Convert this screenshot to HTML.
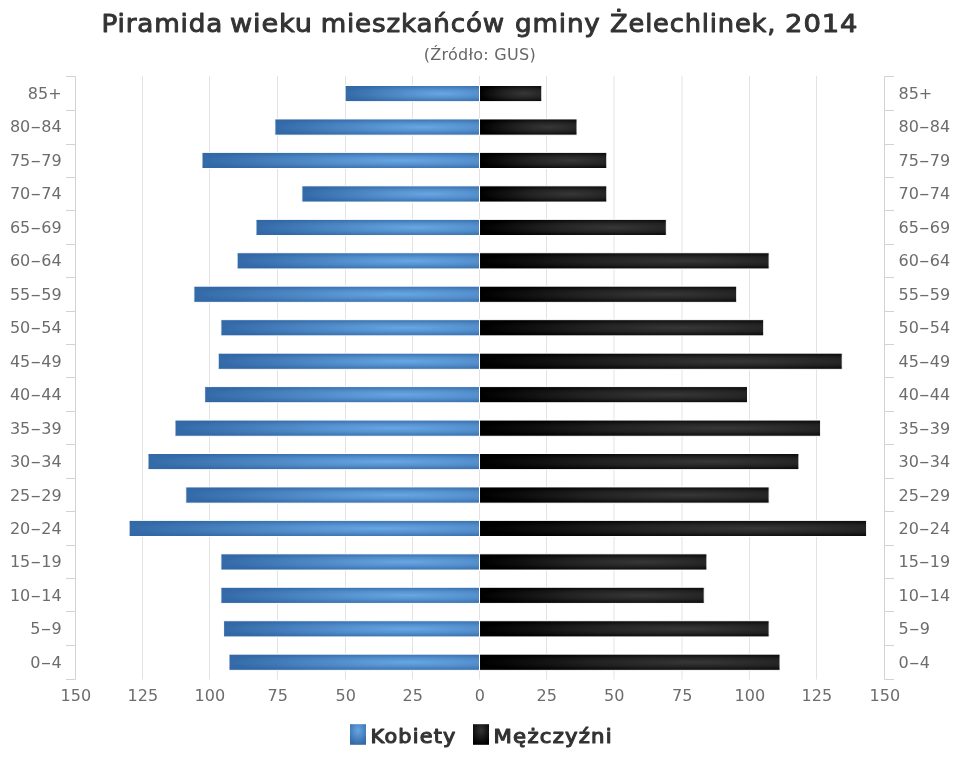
<!DOCTYPE html>
<html lang="pl"><head><meta charset="utf-8">
<title>Piramida wieku mieszkańców gminy Żelechlinek, 2014</title>
<style>
html,body{margin:0;padding:0;background:#fff;}
body{width:960px;height:768px;overflow:hidden;}
svg{display:block;font-family:"DejaVu Sans", "Liberation Sans", sans-serif;}
.t{font-size:25.2px;fill:#333;stroke:#333;stroke-width:0.95;stroke-linejoin:round;letter-spacing:0.8px;}
.s{font-size:16px;fill:#666;letter-spacing:0.27px;}
.l{font-size:16px;fill:#6c6c6c;letter-spacing:0px;}
.g{font-size:19.3px;fill:#333;stroke:#333;stroke-width:1.1;stroke-linejoin:round;letter-spacing:1.1px;}
.b{fill:url(#gb);stroke:#fff;stroke-width:1;}
.k{fill:url(#gk);stroke:#fff;stroke-width:1;}
</style></head><body>
<svg width="960" height="768" viewBox="0 0 960 768">
<defs>
<radialGradient id="gb" cx="0.72" cy="0.5" r="0.72" fx="0.72" fy="0.5" gradientTransform="translate(0.72 0.5) scale(1 1.0) translate(-0.72 -0.5)"><stop offset="0" stop-color="#67a7e3"/><stop offset="1" stop-color="#346aa8"/></radialGradient>
<radialGradient id="gk" cx="0.72" cy="0.5" r="0.72" fx="0.72" fy="0.5" gradientTransform="translate(0.72 0.5) scale(1 1.0) translate(-0.72 -0.5)">
<stop offset="0" stop-color="#373737"/>
<stop offset="0.5" stop-color="#202020"/>
<stop offset="1" stop-color="#000000"/>
</radialGradient>
<linearGradient id="eb" x1="0" y1="0" x2="0" y2="1">
<stop offset="0" stop-color="#2c62a0" stop-opacity="0.3"/>
<stop offset="0.12" stop-color="#2c62a0" stop-opacity="0.15"/>
<stop offset="0.25" stop-color="#2c62a0" stop-opacity="0"/>
<stop offset="0.75" stop-color="#2c62a0" stop-opacity="0"/>
<stop offset="0.88" stop-color="#2c62a0" stop-opacity="0.15"/>
<stop offset="1" stop-color="#2c62a0" stop-opacity="0.3"/>
</linearGradient>
<linearGradient id="ek" x1="0" y1="0" x2="0" y2="1">
<stop offset="0" stop-color="#000000" stop-opacity="0.3"/>
<stop offset="0.12" stop-color="#000000" stop-opacity="0.15"/>
<stop offset="0.25" stop-color="#000000" stop-opacity="0"/>
<stop offset="0.75" stop-color="#000000" stop-opacity="0"/>
<stop offset="0.88" stop-color="#000000" stop-opacity="0.15"/>
<stop offset="1" stop-color="#000000" stop-opacity="0.3"/>
</linearGradient>
<radialGradient id="lb" cx="0.5" cy="0.3" r="0.7"><stop offset="0" stop-color="#67a7e3"/><stop offset="1" stop-color="#346aa8"/></radialGradient>
<radialGradient id="lk" cx="0.5" cy="0.3" r="0.7"><stop offset="0" stop-color="#333333"/><stop offset="1" stop-color="#000000"/></radialGradient>
</defs>
<rect x="0" y="0" width="960" height="768" fill="#fff"/>
<g stroke="#e3e3e6" stroke-width="1" fill="none">
<path d="M142.5 76.0V679.5"/>
<path d="M209.5 76.0V679.5"/>
<path d="M277.5 76.0V679.5"/>
<path d="M345.5 76.0V679.5"/>
<path d="M412.5 76.0V679.5"/>
<path d="M479.5 76.0V679.5"/>
<path d="M546.5 76.0V679.5"/>
<path d="M614 76.0V679.5"/>
<path d="M682 76.0V679.5"/>
<path d="M749.5 76.0V679.5"/>
<path d="M816.5 76.0V679.5"/>
</g>
<g stroke="#d0d3d8" stroke-width="1" fill="none">
<path d="M75.5 76.0V679.5"/>
<path d="M884.5 76.0V679.5"/>
<path d="M66.0 76.5H75.5"/>
<path d="M884.5 76.5H894.0"/>
<path d="M66.0 110.5H75.5"/>
<path d="M884.5 110.5H894.0"/>
<path d="M66.0 144.5H75.5"/>
<path d="M884.5 144.5H894.0"/>
<path d="M66.0 177.5H75.5"/>
<path d="M884.5 177.5H894.0"/>
<path d="M66.0 210.5H75.5"/>
<path d="M884.5 210.5H894.0"/>
<path d="M66.0 244.5H75.5"/>
<path d="M884.5 244.5H894.0"/>
<path d="M66.0 277.5H75.5"/>
<path d="M884.5 277.5H894.0"/>
<path d="M66.0 311.5H75.5"/>
<path d="M884.5 311.5H894.0"/>
<path d="M66.0 344.5H75.5"/>
<path d="M884.5 344.5H894.0"/>
<path d="M66.0 377.5H75.5"/>
<path d="M884.5 377.5H894.0"/>
<path d="M66.0 411.5H75.5"/>
<path d="M884.5 411.5H894.0"/>
<path d="M66.0 444.5H75.5"/>
<path d="M884.5 444.5H894.0"/>
<path d="M66.0 478.5H75.5"/>
<path d="M884.5 478.5H894.0"/>
<path d="M66.0 511.5H75.5"/>
<path d="M884.5 511.5H894.0"/>
<path d="M66.0 545.5H75.5"/>
<path d="M884.5 545.5H894.0"/>
<path d="M66.0 578.5H75.5"/>
<path d="M884.5 578.5H894.0"/>
<path d="M66.0 611.5H75.5"/>
<path d="M884.5 611.5H894.0"/>
<path d="M66.0 645.5H75.5"/>
<path d="M884.5 645.5H894.0"/>
<path d="M66.0 679.5H75.5"/>
<path d="M884.5 679.5H894.0"/>
</g>
<g>
<rect class="b" x="345.1" y="85.5" width="134.4" height="16.1"/>
<rect fill="url(#eb)" x="345.6" y="86.0" width="133.4" height="15.100000000000001"/>
<rect class="k" x="479.5" y="85.5" width="62.3" height="16.1"/>
<rect fill="url(#ek)" x="480" y="86.0" width="61.3" height="15.100000000000001"/>
<rect class="b" x="274.9" y="119.0" width="204.6" height="16.1"/>
<rect fill="url(#eb)" x="275.4" y="119.5" width="203.6" height="15.100000000000001"/>
<rect class="k" x="479.5" y="119.0" width="97.5" height="16.1"/>
<rect fill="url(#ek)" x="480" y="119.5" width="96.5" height="15.100000000000001"/>
<rect class="b" x="202.0" y="152.4" width="277.5" height="16.1"/>
<rect fill="url(#eb)" x="202.5" y="152.9" width="276.5" height="15.100000000000001"/>
<rect class="k" x="479.5" y="152.4" width="127.3" height="16.1"/>
<rect fill="url(#ek)" x="480" y="152.9" width="126.3" height="15.100000000000001"/>
<rect class="b" x="301.9" y="185.9" width="177.6" height="16.1"/>
<rect fill="url(#eb)" x="302.4" y="186.4" width="176.6" height="15.100000000000001"/>
<rect class="k" x="479.5" y="185.9" width="127.3" height="16.1"/>
<rect fill="url(#ek)" x="480" y="186.4" width="126.3" height="15.100000000000001"/>
<rect class="b" x="256.0" y="219.4" width="223.5" height="16.1"/>
<rect fill="url(#eb)" x="256.5" y="219.9" width="222.5" height="15.100000000000001"/>
<rect class="k" x="479.5" y="219.4" width="186.8" height="16.1"/>
<rect fill="url(#ek)" x="480" y="219.9" width="185.8" height="15.100000000000001"/>
<rect class="b" x="237.1" y="252.8" width="242.4" height="16.1"/>
<rect fill="url(#eb)" x="237.6" y="253.3" width="241.4" height="15.100000000000001"/>
<rect class="k" x="479.5" y="252.8" width="289.6" height="16.1"/>
<rect fill="url(#ek)" x="480" y="253.3" width="288.6" height="15.100000000000001"/>
<rect class="b" x="193.9" y="286.2" width="285.6" height="16.1"/>
<rect fill="url(#eb)" x="194.4" y="286.8" width="284.6" height="15.100000000000001"/>
<rect class="k" x="479.5" y="286.2" width="257.2" height="16.1"/>
<rect fill="url(#ek)" x="480" y="286.8" width="256.2" height="15.100000000000001"/>
<rect class="b" x="220.9" y="319.7" width="258.6" height="16.1"/>
<rect fill="url(#eb)" x="221.4" y="320.2" width="257.6" height="15.100000000000001"/>
<rect class="k" x="479.5" y="319.7" width="284.2" height="16.1"/>
<rect fill="url(#ek)" x="480" y="320.2" width="283.2" height="15.100000000000001"/>
<rect class="b" x="218.2" y="353.2" width="261.3" height="16.1"/>
<rect fill="url(#eb)" x="218.7" y="353.7" width="260.3" height="15.100000000000001"/>
<rect class="k" x="479.5" y="353.2" width="362.7" height="16.1"/>
<rect fill="url(#ek)" x="480" y="353.7" width="361.7" height="15.100000000000001"/>
<rect class="b" x="204.7" y="386.6" width="274.8" height="16.1"/>
<rect fill="url(#eb)" x="205.2" y="387.1" width="273.8" height="15.100000000000001"/>
<rect class="k" x="479.5" y="386.6" width="268.0" height="16.1"/>
<rect fill="url(#ek)" x="480" y="387.1" width="267.0" height="15.100000000000001"/>
<rect class="b" x="175.0" y="420.1" width="304.5" height="16.1"/>
<rect fill="url(#eb)" x="175.5" y="420.6" width="303.5" height="15.100000000000001"/>
<rect class="k" x="479.5" y="420.1" width="341.1" height="16.1"/>
<rect fill="url(#ek)" x="480" y="420.6" width="340.1" height="15.100000000000001"/>
<rect class="b" x="148.0" y="453.5" width="331.5" height="16.1"/>
<rect fill="url(#eb)" x="148.5" y="454.0" width="330.5" height="15.100000000000001"/>
<rect class="k" x="479.5" y="453.5" width="319.4" height="16.1"/>
<rect fill="url(#ek)" x="480" y="454.0" width="318.4" height="15.100000000000001"/>
<rect class="b" x="185.8" y="487.0" width="293.7" height="16.1"/>
<rect fill="url(#eb)" x="186.3" y="487.5" width="292.7" height="15.100000000000001"/>
<rect class="k" x="479.5" y="487.0" width="289.6" height="16.1"/>
<rect fill="url(#ek)" x="480" y="487.5" width="288.6" height="15.100000000000001"/>
<rect class="b" x="129.1" y="520.4" width="350.4" height="16.1"/>
<rect fill="url(#eb)" x="129.6" y="520.9" width="349.4" height="15.100000000000001"/>
<rect class="k" x="479.5" y="520.4" width="387.1" height="16.1"/>
<rect fill="url(#ek)" x="480" y="520.9" width="386.1" height="15.100000000000001"/>
<rect class="b" x="220.9" y="553.9" width="258.6" height="16.1"/>
<rect fill="url(#eb)" x="221.4" y="554.4" width="257.6" height="15.100000000000001"/>
<rect class="k" x="479.5" y="553.9" width="227.4" height="16.1"/>
<rect fill="url(#ek)" x="480" y="554.4" width="226.4" height="15.100000000000001"/>
<rect class="b" x="220.9" y="587.3" width="258.6" height="16.1"/>
<rect fill="url(#eb)" x="221.4" y="587.8" width="257.6" height="15.100000000000001"/>
<rect class="k" x="479.5" y="587.3" width="224.7" height="16.1"/>
<rect fill="url(#ek)" x="480" y="587.8" width="223.7" height="15.100000000000001"/>
<rect class="b" x="223.6" y="620.8" width="255.9" height="16.1"/>
<rect fill="url(#eb)" x="224.1" y="621.2" width="254.9" height="15.100000000000001"/>
<rect class="k" x="479.5" y="620.8" width="289.6" height="16.1"/>
<rect fill="url(#ek)" x="480" y="621.2" width="288.6" height="15.100000000000001"/>
<rect class="b" x="229.0" y="654.2" width="250.5" height="16.1"/>
<rect fill="url(#eb)" x="229.5" y="654.7" width="249.5" height="15.100000000000001"/>
<rect class="k" x="479.5" y="654.2" width="300.5" height="16.1"/>
<rect fill="url(#ek)" x="480" y="654.7" width="299.5" height="15.100000000000001"/>
</g>
<g class="l">
<text x="61.6" y="98.7" text-anchor="end">85+</text>
<text x="898.5" y="98.7">85+</text>
<text x="61.6" y="132.2" text-anchor="end">80<tspan textLength="11" lengthAdjust="spacingAndGlyphs">-</tspan>84</text>
<text x="898.5" y="132.2">80<tspan textLength="11" lengthAdjust="spacingAndGlyphs">-</tspan>84</text>
<text x="61.6" y="165.7" text-anchor="end">75<tspan textLength="11" lengthAdjust="spacingAndGlyphs">-</tspan>79</text>
<text x="898.5" y="165.7">75<tspan textLength="11" lengthAdjust="spacingAndGlyphs">-</tspan>79</text>
<text x="61.6" y="199.1" text-anchor="end">70<tspan textLength="11" lengthAdjust="spacingAndGlyphs">-</tspan>74</text>
<text x="898.5" y="199.1">70<tspan textLength="11" lengthAdjust="spacingAndGlyphs">-</tspan>74</text>
<text x="61.6" y="232.6" text-anchor="end">65<tspan textLength="11" lengthAdjust="spacingAndGlyphs">-</tspan>69</text>
<text x="898.5" y="232.6">65<tspan textLength="11" lengthAdjust="spacingAndGlyphs">-</tspan>69</text>
<text x="61.6" y="266.1" text-anchor="end">60<tspan textLength="11" lengthAdjust="spacingAndGlyphs">-</tspan>64</text>
<text x="898.5" y="266.1">60<tspan textLength="11" lengthAdjust="spacingAndGlyphs">-</tspan>64</text>
<text x="61.6" y="299.6" text-anchor="end">55<tspan textLength="11" lengthAdjust="spacingAndGlyphs">-</tspan>59</text>
<text x="898.5" y="299.6">55<tspan textLength="11" lengthAdjust="spacingAndGlyphs">-</tspan>59</text>
<text x="61.6" y="333.1" text-anchor="end">50<tspan textLength="11" lengthAdjust="spacingAndGlyphs">-</tspan>54</text>
<text x="898.5" y="333.1">50<tspan textLength="11" lengthAdjust="spacingAndGlyphs">-</tspan>54</text>
<text x="61.6" y="366.5" text-anchor="end">45<tspan textLength="11" lengthAdjust="spacingAndGlyphs">-</tspan>49</text>
<text x="898.5" y="366.5">45<tspan textLength="11" lengthAdjust="spacingAndGlyphs">-</tspan>49</text>
<text x="61.6" y="400.0" text-anchor="end">40<tspan textLength="11" lengthAdjust="spacingAndGlyphs">-</tspan>44</text>
<text x="898.5" y="400.0">40<tspan textLength="11" lengthAdjust="spacingAndGlyphs">-</tspan>44</text>
<text x="61.6" y="433.5" text-anchor="end">35<tspan textLength="11" lengthAdjust="spacingAndGlyphs">-</tspan>39</text>
<text x="898.5" y="433.5">35<tspan textLength="11" lengthAdjust="spacingAndGlyphs">-</tspan>39</text>
<text x="61.6" y="467.0" text-anchor="end">30<tspan textLength="11" lengthAdjust="spacingAndGlyphs">-</tspan>34</text>
<text x="898.5" y="467.0">30<tspan textLength="11" lengthAdjust="spacingAndGlyphs">-</tspan>34</text>
<text x="61.6" y="500.5" text-anchor="end">25<tspan textLength="11" lengthAdjust="spacingAndGlyphs">-</tspan>29</text>
<text x="898.5" y="500.5">25<tspan textLength="11" lengthAdjust="spacingAndGlyphs">-</tspan>29</text>
<text x="61.6" y="533.9" text-anchor="end">20<tspan textLength="11" lengthAdjust="spacingAndGlyphs">-</tspan>24</text>
<text x="898.5" y="533.9">20<tspan textLength="11" lengthAdjust="spacingAndGlyphs">-</tspan>24</text>
<text x="61.6" y="567.4" text-anchor="end">15<tspan textLength="11" lengthAdjust="spacingAndGlyphs">-</tspan>19</text>
<text x="898.5" y="567.4">15<tspan textLength="11" lengthAdjust="spacingAndGlyphs">-</tspan>19</text>
<text x="61.6" y="600.9" text-anchor="end">10<tspan textLength="11" lengthAdjust="spacingAndGlyphs">-</tspan>14</text>
<text x="898.5" y="600.9">10<tspan textLength="11" lengthAdjust="spacingAndGlyphs">-</tspan>14</text>
<text x="61.6" y="634.4" text-anchor="end">5<tspan textLength="11" lengthAdjust="spacingAndGlyphs">-</tspan>9</text>
<text x="898.5" y="634.4">5<tspan textLength="11" lengthAdjust="spacingAndGlyphs">-</tspan>9</text>
<text x="61.6" y="667.9" text-anchor="end">0<tspan textLength="11" lengthAdjust="spacingAndGlyphs">-</tspan>4</text>
<text x="898.5" y="667.9">0<tspan textLength="11" lengthAdjust="spacingAndGlyphs">-</tspan>4</text>
</g>
<g class="l" text-anchor="middle">
<text x="75.8" y="701">150</text>
<text x="142.8" y="701">125</text>
<text x="209.8" y="701">100</text>
<text x="277.8" y="701">75</text>
<text x="345.8" y="701">50</text>
<text x="412.8" y="701">25</text>
<text x="479.8" y="701">0</text>
<text x="546.8" y="701">25</text>
<text x="614.3" y="701">50</text>
<text x="682.3" y="701">75</text>
<text x="749.8" y="701">100</text>
<text x="816.8" y="701">125</text>
<text x="884.8" y="701">150</text>
</g>
<text class="t" y="31.9"><tspan x="101.45" textLength="121.7" lengthAdjust="spacingAndGlyphs">Piramida</tspan> <tspan x="229.92" textLength="83.0" lengthAdjust="spacingAndGlyphs">wieku</tspan> <tspan x="320.71" textLength="184.3" lengthAdjust="spacingAndGlyphs">mieszkańców</tspan> <tspan x="515.01" textLength="85.7" lengthAdjust="spacingAndGlyphs">gminy</tspan> <tspan x="610.06" textLength="166.2" lengthAdjust="spacingAndGlyphs">Żelechlinek,</tspan> <tspan x="785.08" textLength="73.3" lengthAdjust="spacingAndGlyphs">2014</tspan></text>
<text class="s" x="479.8" y="59.6" text-anchor="middle">(Źródło: GUS)</text>
<rect x="350" y="724.2" width="16" height="20.6" fill="url(#lb)"/>
<text class="g" x="370.6" y="743.1" textLength="85.9" lengthAdjust="spacingAndGlyphs">Kobiety</text>
<rect x="473" y="724.2" width="16" height="20.6" fill="url(#lk)"/>
<text class="g" x="493.6" y="743.1" textLength="119.3" lengthAdjust="spacingAndGlyphs">Mężczyźni</text>
</svg>
</body></html>
